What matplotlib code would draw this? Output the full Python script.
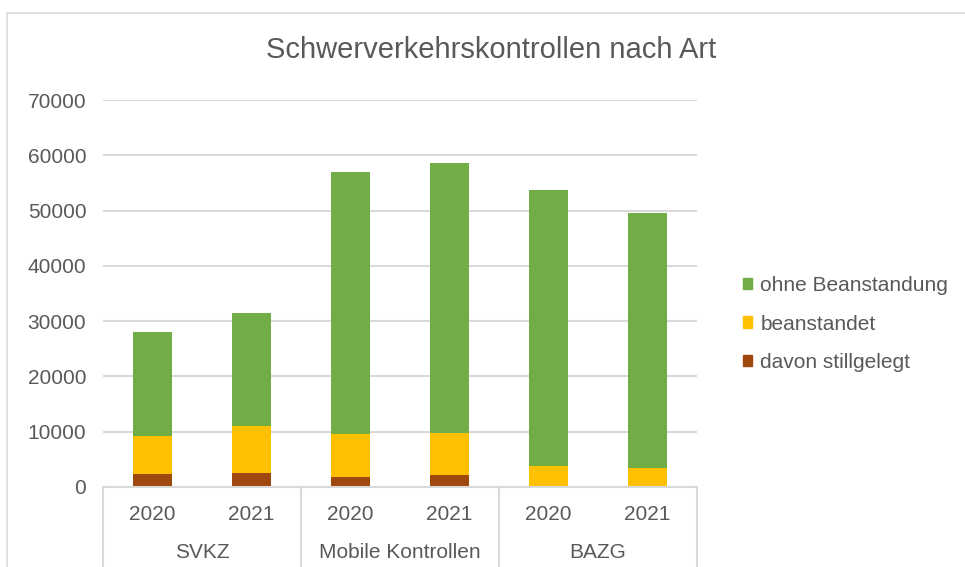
import matplotlib
matplotlib.use('Agg')
import matplotlib.pyplot as plt
from matplotlib.patches import Patch, Rectangle
import numpy as np

plt.rcParams['font.family'] = ['Liberation Sans', 'DejaVu Sans']

# Daten
gruppen = ['SVKZ', 'Mobile Kontrollen', 'BAZG']
jahre = ['2020', '2021']
stillgelegt = [2350, 2480, 1800, 2230, 0, 0]
beanstandet = [6850, 8470, 7700, 7620, 3800, 3500]
ohne_beanstandung = [18800, 20500, 47450, 48750, 49900, 46050]

c_gruen = '#70AD47'
c_gelb = '#FFC000'
c_braun = '#9E480E'
c_text = '#595959'
c_grid = '#D9D9D9'

W, H = 965, 567
fig = plt.figure(figsize=(W / 100, H / 100), dpi=100)
fig.add_artist(Rectangle((7 / W, -0.1), 1.2, 1 - 13 / H + 0.1, transform=fig.transFigure,
                         fill=False, edgecolor=c_grid, linewidth=1.2))

ax = fig.add_axes([103 / W, 1 - 487 / H, (697 - 103) / W, (487 - 100) / H])

x = np.arange(len(stillgelegt))
b1 = np.array(stillgelegt)
b2 = b1 + np.array(beanstandet)
ax.bar(x, stillgelegt, width=0.4, color=c_braun, zorder=3)
ax.bar(x, beanstandet, width=0.4, bottom=b1, color=c_gelb, zorder=3)
ax.bar(x, ohne_beanstandung, width=0.4, bottom=b2, color=c_gruen, zorder=3)

ax.set_xlim(-0.5, len(x) - 0.5)
ax.set_ylim(0, 70000)
ax.set_yticks(range(0, 70001, 10000))
ax.yaxis.grid(True, color=c_grid, linewidth=1.5)
ax.tick_params(axis='y', length=0, labelsize=15, labelcolor=c_text, pad=12)
ax.set_xticks([])
for s in ['top', 'right', 'left']:
    ax.spines[s].set_visible(False)
ax.spines['bottom'].set_color(c_grid)
ax.spines['bottom'].set_linewidth(1.5)
ax.spines['bottom'].set_zorder(4)

# Kategorienachse mit zwei Ebenen
trans = ax.get_xaxis_transform()
for i, xi in enumerate(x):
    ax.text(xi, -0.072, jahre[i % 2], transform=trans, ha='center', va='center',
            fontsize=15, color=c_text)
for g, name in enumerate(gruppen):
    ax.text(2 * g + 0.5, -0.168, name, transform=trans, ha='center', va='center',
            fontsize=15, color=c_text)
for g in range(len(gruppen) + 1):
    ax.plot([2 * g - 0.5, 2 * g - 0.5], [0, -0.3], transform=trans, color=c_grid,
            linewidth=1.5, clip_on=False)

fig.text((265 + 718) / 2 / W, 1 - 50 / H, 'Schwerverkehrskontrollen nach Art',
         ha='center', va='center', fontsize=21, color=c_text)

handles = [Patch(color=c_gruen), Patch(color=c_gelb), Patch(color=c_braun)]
labels = ['ohne Beanstandung', 'beanstandet', 'davon stillgelegt']
fig.legend(handles, labels, loc='center left', bbox_to_anchor=(724 / W, 1 - 324 / H),
           frameon=False, fontsize=15, labelcolor=c_text, handlelength=0.45,
           handleheight=0.45, handletextpad=0.4, labelspacing=0.95)

fig.savefig('out.png', dpi=100)
